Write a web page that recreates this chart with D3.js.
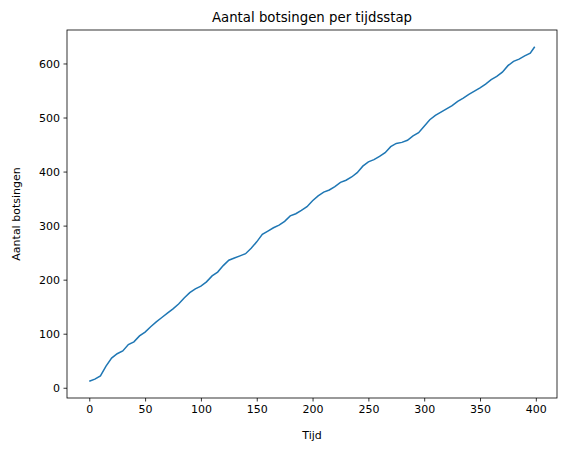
<!DOCTYPE html>
<html><head><meta charset="utf-8">
<script src="https://cdn.jsdelivr.net/npm/d3@7"></script>
<style>body{margin:0;background:#fff}svg{font-family:"DejaVu Sans",sans-serif}</style>
</head><body>
<script>
const times = [0,5,10,15,20,25,30,35,40,45,50,55,60,65,70,75,80,85,90,95,100,105,110,115,120,125,130,135,140,145,150,155,160,165,170,175,180,185,190,195,200,205,210,215,220,225,230,235,240,245,250,255,260,265,270,275,280,285,290,295,300,305,310,315,320,325,330,335,340,345,350,355,360,365,370,375,380,385,390,395,399];
const collisions = [12,16,22,40,55,63,68,80,85,96,103,113,122,130,138,146,155,166,176,183,188,196,207,214,226,236,240,244,248,258,270,284,290,296,301,308,318,322,328,335,346,355,362,366,372,380,384,390,398,410,418,422,428,435,446,452,454,458,466,472,484,496,504,510,516,522,530,536,543,549,555,562,570,576,584,596,604,608,614,619,631];
const xTicks = [0,50,100,150,200,250,300,350,400];
const yTicks = [0,100,200,300,400,500,600];

const W=571,H=453, L=67,R=557,T=30,B=398;
const svg=d3.select("body").append("svg").attr("width",W).attr("height",H);
const x=d3.scaleLinear().domain([-19.95,418.95]).range([L,R]);
const y=d3.scaleLinear().domain([-18.95,661.95]).range([B,T]);
const fs="11px";
const gx=svg.append("g").attr("transform",`translate(0,${B})`).call(d3.axisBottom(x).tickValues(xTicks).tickSize(3.5).tickPadding(3.5));
const gy=svg.append("g").attr("transform",`translate(${L},0)`).call(d3.axisLeft(y).tickValues(yTicks).tickSize(3.5).tickPadding(3.5));
[gx,gy].forEach(g=>{g.select(".domain").remove();g.selectAll("text").attr("font-size",fs).attr("fill","#000").attr("font-family","DejaVu Sans");g.selectAll("line").attr("stroke","#000").attr("stroke-width",0.8);});
svg.append("rect").attr("x",L).attr("y",T).attr("width",R-L).attr("height",B-T).attr("fill","none").attr("stroke","#000").attr("stroke-width",0.8);
svg.append("path").datum(times.map((t,i)=>[t,collisions[i]]))
 .attr("d",d3.line().x(d=>x(d[0])).y(d=>y(d[1])))
 .attr("fill","none").attr("stroke","#1f77b4").attr("stroke-width",1.5);
svg.append("text").attr("x",(L+R)/2).attr("y",T-8).attr("text-anchor","middle").attr("font-size","13.3px").text("Aantal botsingen per tijdsstap");
svg.append("text").attr("x",(L+R)/2).attr("y",B+41).attr("text-anchor","middle").attr("font-size",fs).text("Tijd");
svg.append("text").attr("transform",`translate(${L-47},${(T+B)/2}) rotate(-90)`).attr("text-anchor","middle").attr("font-size",fs).text("Aantal botsingen");
</script>
</body></html>
